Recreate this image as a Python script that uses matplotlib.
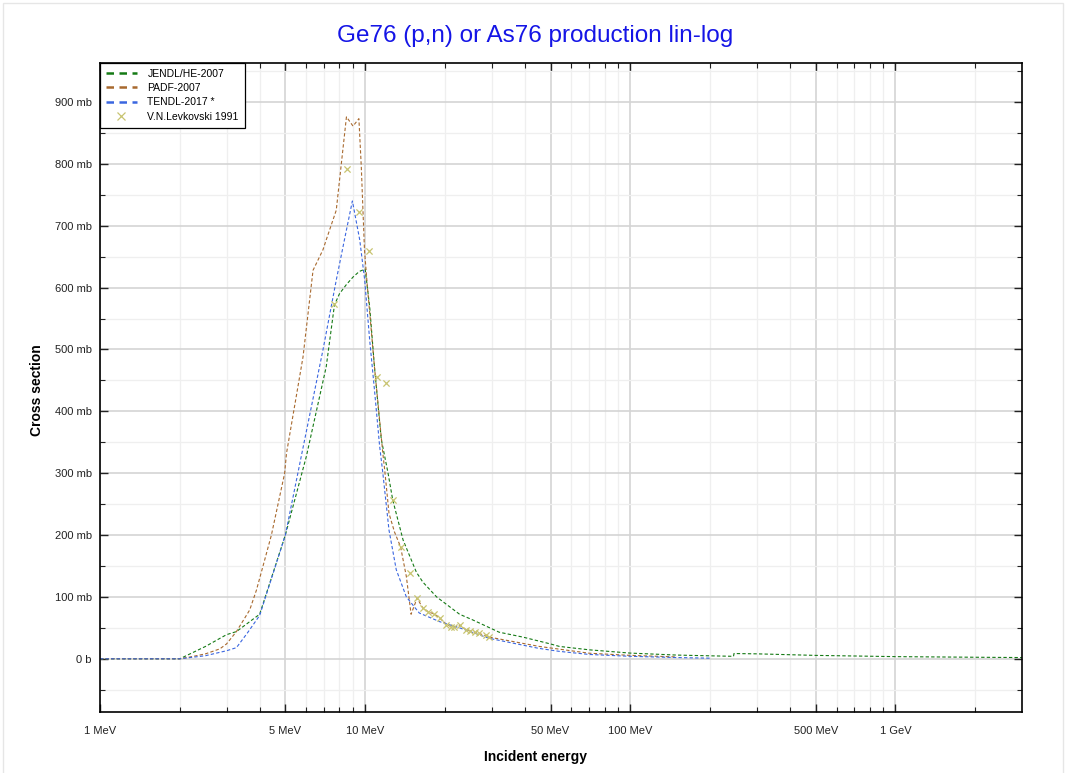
import numpy as np
import matplotlib
matplotlib.use("Agg")
import matplotlib.pyplot as plt
from matplotlib.lines import Line2D
from matplotlib.patches import Rectangle
from matplotlib.ticker import FixedLocator, FuncFormatter

plt.rcParams['font.family'] = ['Liberation Sans', 'DejaVu Sans']

# JENDL/HE-2007 (energy in MeV, cross section in mb)
jendl_e = [1, 2, 2.5, 3.0, 3.27, 4.0, 5.0, 6.0, 7.13, 7.66, 8.0, 8.5, 9.0, 9.5, 10.0,
           10.4, 10.84, 11.5, 12.2, 12.7, 13.9, 15.6, 16.5, 18.6, 22.7, 25.4, 32, 39.4,
           50, 54, 70, 100, 150, 200, 245, 246, 300, 500, 1000, 2000, 3000]
jendl_xs = [0, 0, 20, 39, 44, 72, 200, 327, 472, 572, 590, 605, 617, 626, 630,
            569, 472, 355, 300, 257, 192, 140, 124, 100, 72, 63, 43, 35,
            24, 20, 14.5, 9.2, 6.0, 4.8, 4.0, 8.5, 8.0, 5.5, 3.5, 2.5, 2.0]

# PADF-2007
padf_e = [1, 2, 2.24, 2.5, 2.83, 3.0, 3.27, 3.67, 3.89, 4.18, 4.43, 4.97, 5.05, 5.83,
          6.36, 6.93, 7.13, 7.78, 8.5, 9.0, 9.47, 9.67, 9.94, 10.2, 10.4, 10.84, 11.66,
          11.85, 12.3, 12.9, 13.6, 14.3, 14.9, 15.7, 16.5, 17.3, 18.3, 19.1, 20.2, 21.1,
          21.7, 22.8, 24.0, 24.9, 25.9, 26.9, 28.6, 29.4, 35, 45.3, 70, 100, 150]
padf_xs = [0, 0, 3.8, 8, 16, 24, 44, 79, 111, 160, 200, 300, 332, 488,
           628, 661, 677, 725, 876, 861, 873, 795, 661, 600, 560, 472, 332,
           305, 235, 205, 181, 133, 72, 98, 82, 76, 72, 66, 56, 52,
           51, 54, 47, 45, 43, 41, 37, 35, 29, 20, 9, 5.5, 3]

# TENDL-2017
tendl_e = [1, 2, 2.5, 3.0, 3.27, 3.6, 4.0, 5.0, 5.74, 6.93, 7.78, 8.35, 8.95, 9.54,
           9.96, 10.4, 10.84, 11.33, 11.66, 12.3, 13.1, 14.3, 16, 19.1, 22.7, 29.4,
           45, 54, 70, 100, 150, 200]
tendl_xs = [0, 0, 5, 13, 18, 42, 70, 200, 327, 499, 612, 677, 740, 677,
            612, 515, 435, 345, 300, 208, 144, 100, 74, 60, 50, 33,
            17, 12, 7, 4, 2, 1]

# V.N.Levkovski 1991
exp_e = [7.66, 8.57, 9.45, 10.3, 11.1, 12.0, 12.7, 13.6, 14.7, 15.7, 16.5, 17.3,
         18.2, 19.1, 20.2, 21.1, 21.7, 22.8, 24.0, 24.9, 25.9, 26.9, 28.6, 29.4]
exp_xs = [573, 792, 722, 659, 456, 445, 257, 181, 138, 98, 82, 76,
          72, 66, 55, 52, 51, 55, 47, 45, 43, 41, 38, 35]

x_major = [1, 5, 10, 50, 100, 500, 1000]
x_major_labels = ["1 MeV", "5 MeV", "10 MeV", "50 MeV", "100 MeV", "500 MeV", "1 GeV"]
x_minor = [2, 3, 4, 6, 7, 8, 9, 20, 30, 40, 60, 70, 80, 90,
           200, 300, 400, 600, 700, 800, 900, 2000]
y_major = [0, 100, 200, 300, 400, 500, 600, 700, 800, 900]
y_minor = [-50, 50, 150, 250, 350, 450, 550, 650, 750, 850, 950]

c_jendl = '#157a15'
c_padf = '#a8692e'
c_tendl = '#3a66e0'
c_exp = '#c8c470'

fig = plt.figure(figsize=(10.71, 7.73), dpi=100)
ax = fig.add_axes([100/1071, 61/773, 922/1071, 649/773])

dash = (0, (3, 2))
ax.plot(jendl_e, jendl_xs, color=c_jendl, lw=0.8, ls=dash)
ax.plot(padf_e, padf_xs, color=c_padf, lw=0.8, ls=dash)
ax.plot(tendl_e, tendl_xs, color=c_tendl, lw=0.8, ls=dash)
ax.scatter(exp_e, exp_xs, marker='x', s=20, color=c_exp, linewidths=0.9, zorder=3)

ax.set_xscale('log')
ax.set_xlim(1, 3000)
ax.set_ylim(-86, 963)

ax.xaxis.set_major_locator(FixedLocator(x_major))
ax.xaxis.set_major_formatter(FuncFormatter(lambda v, p: x_major_labels[x_major.index(v)] if v in x_major else ""))
ax.xaxis.set_minor_locator(FixedLocator(x_minor))
ax.xaxis.set_minor_formatter(FuncFormatter(lambda v, p: ""))
ax.yaxis.set_major_locator(FixedLocator(y_major))
ax.yaxis.set_major_formatter(FuncFormatter(lambda v, p: "0 b" if v == 0 else f"{int(v)} mb"))
ax.yaxis.set_minor_locator(FixedLocator(y_minor))

ax.grid(which='major', color='#d4d4d4', lw=1.2)
ax.grid(which='minor', color='#efefef', lw=0.9)
ax.set_axisbelow(True)

ax.tick_params(which='both', direction='in', top=True, right=True, labelsize=8, colors='#222222')
ax.tick_params(which='major', length=6, width=1)
ax.tick_params(which='minor', length=3.5, width=0.8)
ax.tick_params(axis='x', pad=10)
ax.tick_params(axis='y', pad=6)
for s in ax.spines.values():
    s.set_linewidth(1.2)

handles = [Line2D([], [], color=c_jendl, lw=1.8, ls=(0, (3, 2.2))),
           Line2D([], [], color=c_padf, lw=1.8, ls=(0, (3, 2.2))),
           Line2D([], [], color=c_tendl, lw=1.8, ls=(0, (3, 2.2))),
           Line2D([], [], color=c_exp, lw=0, marker='x', markersize=6, markeredgewidth=0.9)]
leg = ax.legend(handles, ["JENDL/HE-2007", "PADF-2007", "TENDL-2017 *", "V.N.Levkovski 1991"],
                loc='upper left', borderaxespad=0, fontsize=7.5, fancybox=False,
                framealpha=1, edgecolor='black', handlelength=3.0, labelspacing=0.42,
                borderpad=0.55, handletextpad=1.0)
leg.get_frame().set_linewidth(0.9)

fig.text(0.5, 1 - 36/773, "Ge76 (p,n) or As76 production lin-log", ha='center', va='center',
         fontsize=17.5, color='#1515e6')
fig.text(0.5, 1 - 757/773, "Incident energy", ha='center', va='center', fontsize=10, weight='bold')
fig.text(37/1071, 1 - 390/773, "Cross section", ha='center', va='center', rotation=90,
         fontsize=10, weight='bold')

fig.patches.append(Rectangle((3/1071, -0.01), 1060/1071, 1 - 3/773 + 0.01, transform=fig.transFigure,
                             fill=False, edgecolor='#e6e6e6', lw=1))

fig.savefig("out.png", dpi=100)
